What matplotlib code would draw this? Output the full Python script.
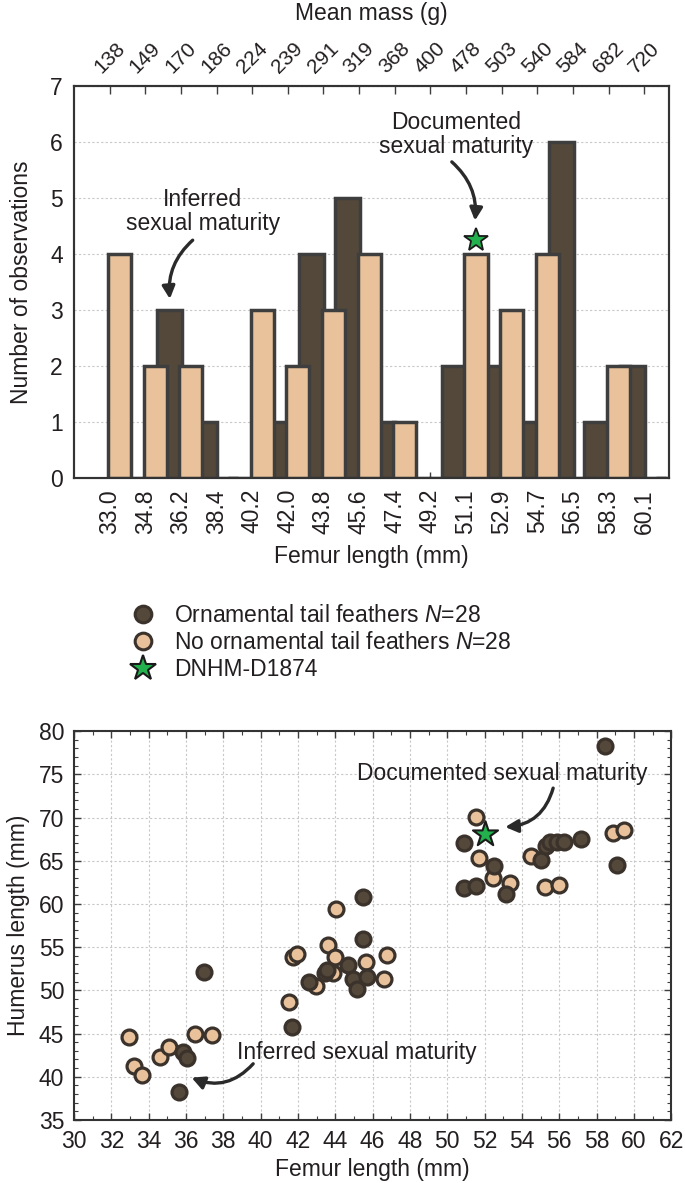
import matplotlib
matplotlib.use('Agg')
import matplotlib.pyplot as plt
import numpy as np
from matplotlib.lines import Line2D
from matplotlib.ticker import MultipleLocator

plt.rcParams['font.family'] = ['Liberation Sans', 'DejaVu Sans']
plt.rcParams['mathtext.fontset'] = 'custom'
plt.rcParams['mathtext.rm'] = 'Liberation Sans'
plt.rcParams['mathtext.it'] = 'Liberation Sans:italic'

# ---------------- data ----------------
femur_bins = ['33.0', '34.8', '36.2', '38.4', '40.2', '42.0', '43.8', '45.6',
              '47.4', '49.2', '51.1', '52.9', '54.7', '56.5', '58.3', '60.1']
mass_labels = ['138', '149', '170', '186', '224', '239', '291', '319',
               '368', '400', '478', '503', '540', '584', '682', '720']
counts_ornamental = [0, 3, 1, 0, 1, 4, 5, 1, 0, 2, 2, 1, 6, 1, 2, 0]
counts_no_ornamental = [4, 2, 2, 0, 3, 2, 3, 4, 1, 0, 4, 3, 4, 0, 2, 0]
specimen_bin = 10          # DNHM-D1874 femur bin index (51.1)

orn_femur = [36.97, 35.65, 35.85, 36.07, 41.7,
             45.5, 45.5, 44.7, 43.45, 43.54, 42.6, 44.97, 45.15, 45.7,
             58.46, 50.9, 52.5, 53.15, 50.9, 51.54, 55.0, 55.3, 55.5, 55.87,
             56.26, 57.15, 59.08]
orn_humerus = [52.1, 38.25, 42.85, 42.2, 45.8,
               60.8, 55.9, 52.9, 51.95, 52.3, 51.0, 51.3, 50.2, 51.6,
               78.26, 67.1, 64.4, 61.2, 61.8, 62.1, 65.1, 66.7, 67.2, 67.2,
               67.2, 67.46, 64.5]
no_femur = [32.95, 33.2, 33.65, 34.6, 35.1, 36.5, 37.4,
            44.04, 43.6, 44.0, 41.75, 41.97, 43.9, 42.97, 45.65, 41.5, 46.76, 46.6,
            51.54, 51.72, 52.44, 53.37, 54.5, 58.9, 59.47, 55.24, 56.0]
no_humerus = [44.55, 41.3, 40.2, 42.25, 43.4, 45.0, 44.8,
              59.4, 55.3, 53.9, 53.9, 54.15, 51.95, 50.5, 53.3, 48.6, 54.1, 51.3,
              70.1, 65.3, 62.95, 62.4, 65.5, 68.2, 68.6, 62.0, 62.2]
specimen_femur = [52.03]
specimen_humerus = [68.04]

# ---------------- styles ----------------
DARK = '#54483b'
LIGHT = '#e9c29c'
EDGE = '#3e3e3e'
PT_EDGE = '#3a322b'
TXT = '#231f20'
GREEN = '#22b14c'
FS = 16.5
ARROW = dict(arrowstyle='-|>,head_length=0.75,head_width=0.38',
             color='#2a2a2a', lw=2.4, shrinkA=0, shrinkB=0)

fig = plt.figure(figsize=(6.85, 11.83), dpi=100)

# ---------------- histogram ----------------
ax1 = fig.add_axes([0.108, 0.596, 0.869, 0.331])
x = np.arange(len(femur_bins))
ax1.bar(x + 0.67, counts_ornamental, width=0.70, color=DARK, edgecolor=EDGE,
        linewidth=2.5, zorder=2)
ax1.bar(x + 0.28, counts_no_ornamental, width=0.65, color=LIGHT, edgecolor=EDGE,
        linewidth=2.5, zorder=3)
ax1.plot(specimen_bin + 0.28, counts_no_ornamental[specimen_bin] + 0.25,
         marker='*', ms=18, mfc=GREEN, mec='#1a1a1a', mew=1.3, ls='none', zorder=5)
ax1.set_xlim(-1.0, 15.7)
ax1.set_ylim(0, 7)
ax1.set_yticks(range(8))
ax1.set_xticks(x)
ax1.set_xticklabels(femur_bins, rotation=90, fontsize=FS, color=TXT)
ax1.tick_params(axis='y', length=0, labelsize=FS, labelcolor=TXT, pad=8)
ax1.tick_params(axis='x', direction='in', length=4, width=1, color=EDGE, pad=8)
ax1.grid(axis='y', ls=(0, (2, 2)), color='#c8c8c8', lw=0.8, zorder=0)
ax1.set_axisbelow(True)
for s in ax1.spines.values():
    s.set_color('#333333')
    s.set_linewidth(1.5)
ax1.set_xlabel('Femur length (mm)', fontsize=FS, color=TXT, labelpad=8)
ax1.set_ylabel('Number of observations', fontsize=FS, color=TXT, labelpad=12)

ax1t = ax1.twiny()
ax1t.set_xlim(ax1.get_xlim())
ax1t.set_xticks(x)
ax1t.set_xticklabels(mass_labels, rotation=45, fontsize=15, color=TXT)
ax1t.tick_params(axis='x', direction='in', length=6, width=1, color=EDGE, pad=7)
ax1t.set_xlabel('Mean mass (g)', fontsize=FS, color=TXT, labelpad=13)
for s in ax1t.spines.values():
    s.set_color('#333333')
    s.set_linewidth(1.5)

ax1.text(2.61, 4.76, 'Inferred\nsexual maturity', ha='center', va='center',
         fontsize=FS, color=TXT, linespacing=1.05)
ax1.annotate('', xy=(1.69, 3.2), xytext=(2.33, 4.25),
             arrowprops=dict(ARROW, connectionstyle='arc3,rad=0.25'))
ax1.text(9.72, 6.14, 'Documented\nsexual maturity', ha='center', va='center',
         fontsize=FS, color=TXT, linespacing=1.05)
ax1.annotate('', xy=(10.25, 4.6), xytext=(9.6, 5.65),
             arrowprops=dict(ARROW, connectionstyle='arc3,rad=-0.25'))

# ---------------- scatter ----------------
ax2 = fig.add_axes([0.108, 0.0533, 0.872, 0.3287])
ax2.scatter(no_femur, no_humerus, s=115, c=LIGHT, edgecolors=PT_EDGE,
            linewidths=2.3, zorder=3)
ax2.scatter(orn_femur, orn_humerus, s=115, c=DARK, edgecolors=PT_EDGE,
            linewidths=2.3, zorder=4)
ax2.scatter(specimen_femur, specimen_humerus, s=360, marker='*', c=GREEN,
            edgecolors='#1a1a1a', linewidths=1.5, zorder=5)
ax2.set_xlim(30, 62)
ax2.set_ylim(35, 80)
ax2.xaxis.set_major_locator(MultipleLocator(2))
ax2.xaxis.set_minor_locator(MultipleLocator(1))
ax2.yaxis.set_major_locator(MultipleLocator(5))
ax2.yaxis.set_minor_locator(MultipleLocator(1))
ax2.tick_params(which='both', direction='in', top=True, right=True, color=EDGE,
                labelsize=FS, labelcolor=TXT)
ax2.tick_params(axis='x', pad=7)
ax2.tick_params(axis='y', pad=7)
ax2.tick_params(which='major', length=5, width=1)
ax2.tick_params(which='minor', length=3, width=0.8)
ax2.grid(which='major', ls=(0, (2, 2)), color='#c8c8c8', lw=0.8, zorder=0)
ax2.set_axisbelow(True)
for s in ax2.spines.values():
    s.set_color('#333333')
    s.set_linewidth(1.5)
ax2.set_xlabel('Femur length (mm)', fontsize=FS, color=TXT, labelpad=4)
ax2.set_ylabel('Humerus length (mm)', fontsize=FS, color=TXT, labelpad=6)

ax2.text(52.94, 75.14, 'Documented sexual maturity', ha='center', va='center',
         fontsize=FS, color=TXT)
ax2.annotate('', xy=(53.1, 68.9), xytext=(55.67, 73.4),
             arrowprops=dict(ARROW, connectionstyle='arc3,rad=-0.35'))
ax2.text(45.17, 42.85, 'Inferred sexual maturity', ha='center', va='center',
         fontsize=FS, color=TXT)
ax2.annotate('', xy=(36.3, 39.9), xytext=(39.6, 41.5),
             arrowprops=dict(ARROW, connectionstyle='arc3,rad=-0.35'))

# ---------------- legend ----------------
handles = [
    Line2D([], [], marker='o', ls='none', ms=12, mfc=DARK, mec=PT_EDGE, mew=2.2),
    Line2D([], [], marker='o', ls='none', ms=12, mfc=LIGHT, mec=PT_EDGE, mew=2.2),
    Line2D([], [], marker='*', ls='none', ms=19, mfc=GREEN, mec='#1a1a1a', mew=1.5),
]
labels = ['Ornamental tail feathers $\\mathit{N}$=28',
          'No ornamental tail feathers $\\mathit{N}$=28',
          'DNHM-D1874']
fig.legend(handles, labels, loc='upper left', bbox_to_anchor=(0.189, 0.4895),
           frameon=False, fontsize=FS, labelspacing=0.17, handletextpad=0.76,
           handlelength=1.2, borderpad=0, borderaxespad=0, labelcolor=TXT)

fig.savefig('out.png', dpi=100)
